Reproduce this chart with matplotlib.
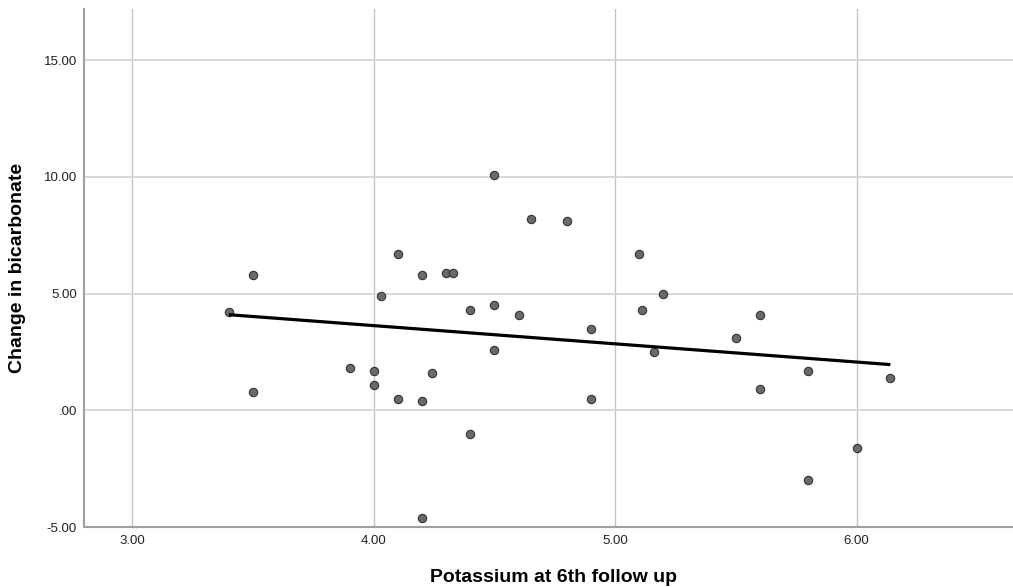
import numpy as np
import matplotlib
matplotlib.use("Agg")
import matplotlib.pyplot as plt

potassium = [4.5, 4.65, 4.8, 4.1, 4.2, 4.3, 4.33, 4.03, 4.4, 4.5, 4.6, 4.9,
             5.1, 5.2, 5.11, 5.16, 4.5, 3.9, 4.0, 4.0, 4.24, 4.1, 4.2, 4.9,
             4.4, 4.2, 5.6, 5.5, 5.8, 5.6, 6.14, 6.0, 5.8, 3.4, 3.5, 3.5]
bicarb_change = [10.1, 8.2, 8.1, 6.7, 5.8, 5.9, 5.9, 4.9, 4.3, 4.5, 4.1, 3.5,
                 6.7, 5.0, 4.3, 2.5, 2.6, 1.8, 1.7, 1.1, 1.6, 0.5, 0.4, 0.5,
                 -1.0, -4.6, 4.1, 3.1, 1.7, 0.9, 1.4, -1.6, -3.0, 4.2, 0.8, 5.8]
x_ticks = [3.0, 4.0, 5.0, 6.0]
y_ticks = [-5.0, 0.0, 5.0, 10.0, 15.0]
x_label = "Potassium at 6th follow up"
y_label = "Change in bicarbonate"

plt.rcParams['font.family'] = ['Liberation Sans', 'DejaVu Sans']

fig = plt.figure(figsize=(10.13, 5.87), dpi=100)
W, H = 1013, 587
left, right, top, bottom = 84, 1013, 9, 527
ax = fig.add_axes([left / W, 1 - bottom / H, (right - left) / W, (bottom - top) / H])

ax.set_xlim(2.80, 6.648)
ax.set_ylim(-5.0, 17.19)

ax.set_xticks(x_ticks)
ax.set_yticks(y_ticks)
ax.set_xticklabels(["%.2f" % v for v in x_ticks])
ax.set_yticklabels([("%.2f" % v) if v != 0 else ".00" for v in y_ticks])
ax.tick_params(length=0, labelsize=9.5, colors='#222222')
ax.tick_params(axis='y', pad=5)
ax.tick_params(axis='x', pad=6)

ax.grid(True, axis='y', color='#d4d4d4', linewidth=1.3, zorder=0)
ax.grid(True, axis='x', color='#c4c4c4', linewidth=1.0, zorder=0)
for s in ['top', 'right']:
    ax.spines[s].set_visible(False)
for s in ['left', 'bottom']:
    ax.spines[s].set_color('#a0a0a0')
    ax.spines[s].set_linewidth(1.5)

ax.scatter(potassium, bicarb_change, s=36, facecolor='#6a6a6a',
           edgecolor='#333333', linewidth=0.8, zorder=3)

xs = np.array(potassium)
ys = np.array(bicarb_change)
slope, intercept = np.polyfit(xs, ys, 1)
xl = np.array([xs.min(), xs.max()])
ax.plot(xl, slope * xl + intercept, color='black', linewidth=2.3, zorder=4,
        solid_capstyle='butt')

fig.text(553 / W, 1 - 577 / H, x_label, fontsize=14, fontweight='bold',
         ha='center', va='center', color='black')
fig.text(18 / W, 1 - 268 / H, y_label, fontsize=14, fontweight='bold',
         ha='center', va='center', rotation=90, color='black')

fig.savefig("out.png", dpi=100)
